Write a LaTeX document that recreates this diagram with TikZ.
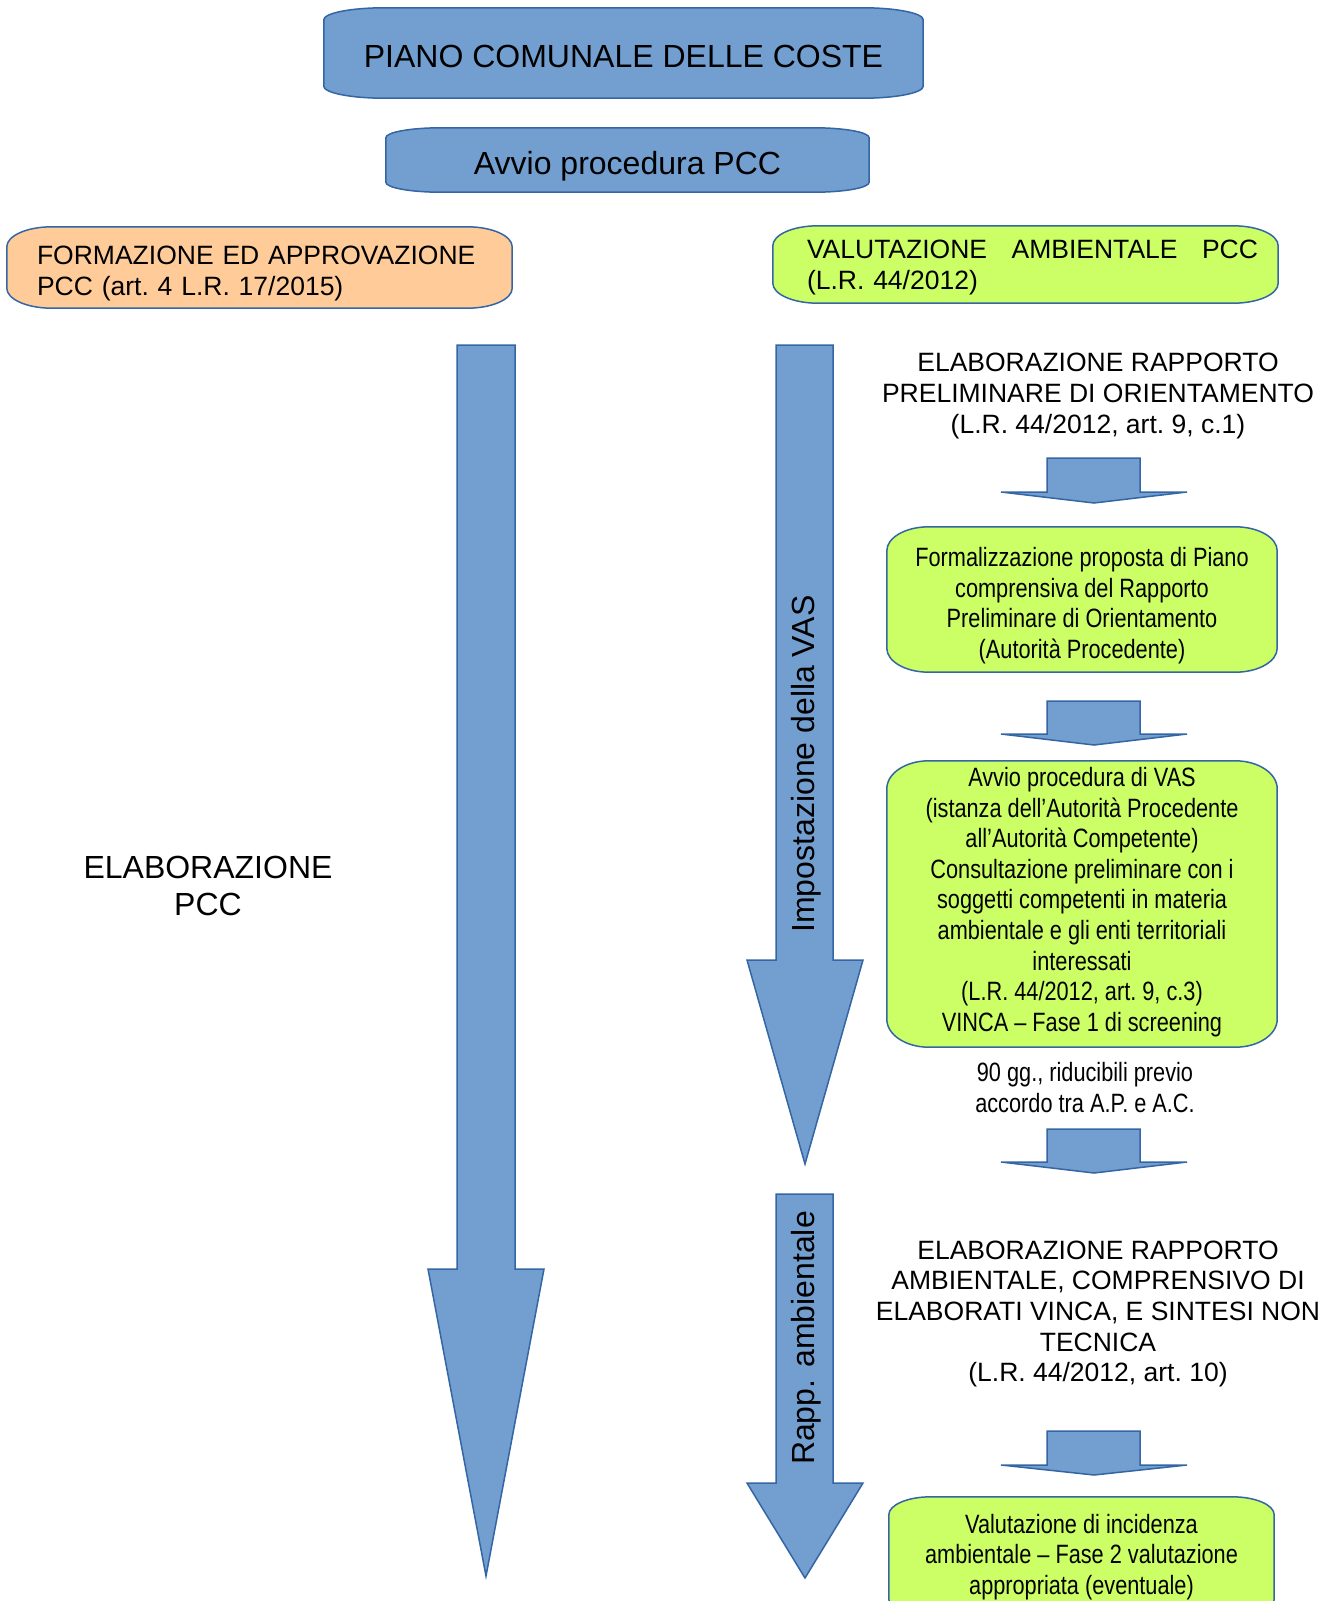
\documentclass[tikz,border=0pt]{standalone}
\usepackage{fontspec}
\setmainfont{Liberation Sans}
\newfontfamily\narrowfont[FakeStretch=0.82]{Liberation Sans}
\usetikzlibrary{backgrounds}
\definecolor{boxblue}{HTML}{729FCF}
\definecolor{lineblue}{HTML}{3465A4}
\definecolor{boxorange}{HTML}{FFCC99}
\definecolor{boxgreen}{HTML}{CCFF66}
\newcommand\ovalbox[5][]{%
\filldraw [shapeline, fill=#5] ([#1,xshift=#3]#2.north west) -- ([#1,xshift=-#3]#2.north east)
  arc [start angle=90, end angle=0, x radius=#3, y radius=#4] -- ([#1,yshift=#4]#2.south east)
  arc [start angle=0, end angle=-90, x radius=#3, y radius=#4] -- ([#1,xshift=#3]#2.south west)
  arc [start angle=-90, end angle=-180, x radius=#3, y radius=#4] -- ([#1,yshift=-#4]#2.north west)
  arc [start angle=180, end angle=90, x radius=#3, y radius=#4] -- cycle;}
\begin{document}
\begin{tikzpicture}[x=1pt,y=1pt]
\tikzstyle{every node}+=[inner sep=0pt]
\tikzstyle{bigtext}=[font=\fontsize{32}{36.5}\selectfont, align=center]
\tikzstyle{plaintext}=[font=\fontsize{26.5}{30.6}\selectfont, align=center]
\tikzstyle{narrowtext}=[font=\fontsize{26.5}{30.6}\narrowfont, align=center]
\tikzstyle{shapeline}=[draw=lineblue, line width=1.5pt]
\tikzstyle{blockarrow}=[shapeline, fill=boxblue]
\useasboundingbox (0,0) rectangle (1337,-1601);
\clip (0,0) rectangle (1337,-1601);
\node [bigtext, minimum width=599pt, minimum height=90pt] (piano) at (623.5,-56) {PIANO COMUNALE DELLE COSTE};
\node [bigtext, minimum width=483pt, minimum height=64pt] (avvio) at (627.5,-166) {Avvio procedura PCC};
\node [plaintext, align=left, text width=445pt, minimum width=505pt, minimum height=81pt] (formazione) at (259.5,-273.5) {FORMAZIONE ED APPROVAZIONE\\PCC (art.~4 L.R. 17/2015)};
\node [plaintext, align=left, text width=451pt, minimum width=505pt, minimum height=77pt] (valutazione) at (1032.5,-267.5) {VALUTAZIONE\hfill AMBIENTALE\hfill PCC\\(L.R. 44/2012)};
\node [bigtext] (elabpcc) at (208,-886) {ELABORAZIONE\\PCC};
\node [plaintext] (rappprel) at (1098,-396) {ELABORAZIONE RAPPORTO\\PRELIMINARE DI ORIENTAMENTO\\(L.R. 44/2012, art.~9, c.1)};
\node [narrowtext, minimum width=390pt, minimum height=145pt] (formalizz) at (1082,-605.5) {Formalizzazione proposta di Piano\\comprensiva del Rapporto\\Preliminare di Orientamento\\(Autorità Procedente)};
\node [narrowtext, minimum width=390pt, minimum height=286pt] (avviovas) at (1082,-902) {Avvio procedura di VAS\\(istanza dell’Autorità Procedente\\all’Autorità Competente)\\Consultazione preliminare con i\\soggetti competenti in materia\\ambientale e gli enti territoriali\\interessati\\(L.R. 44/2012, art.~9, c.3)\\VINCA – Fase 1 di screening};
\node [narrowtext] (termini) at (1085,-1087.5) {90 gg., riducibili previo\\accordo tra A.P. e A.C.};
\node [plaintext] (rappamb) at (1098,-1314) {ELABORAZIONE RAPPORTO\\AMBIENTALE, COMPRENSIVO DI\\ELABORATI VINCA, E SINTESI NON\\TECNICA\\(L.R. 44/2012, art.~10)};
\node [narrowtext, minimum width=385pt, minimum height=120pt] (incidenza) at (1081.5,-1557) {Valutazione di incidenza\\ambientale – Fase 2 valutazione\\appropriata (eventuale)};
\node [bigtext, rotate=90] (impostazione) at (806,-764) {Impostazione della VAS};
\node [bigtext, rotate=90] (rapp) at (806,-1338) {Rapp. ambientale};
\begin{scope}[on background layer]
\ovalbox[yshift=3pt]{piano}{60pt}{12pt}{boxblue}
\ovalbox[yshift=6pt]{avvio}{55pt}{10pt}{boxblue}
\ovalbox[yshift=6pt]{formazione}{45pt}{20pt}{boxorange}
\ovalbox[xshift=-7pt,yshift=3pt]{valutazione}{45pt}{20pt}{boxgreen}
\ovalbox[yshift=6pt]{formalizz}{42pt}{24pt}{boxgreen}
\ovalbox[yshift=-2pt]{avviovas}{42pt}{28pt}{boxgreen}
\ovalbox{incidenza}{42pt}{18pt}{boxgreen}
\filldraw [blockarrow] (457,-345) -- (515,-345) -- (515,-1269) -- (544,-1269) -- (486,-1576) -- (428,-1269) -- (457,-1269) -- cycle;
\filldraw [blockarrow] (776,-345) -- (833,-345) -- (833,-960) -- (863,-960) -- (805,-1164) -- (747,-960) -- (776,-960) -- cycle;
\filldraw [blockarrow] (776,-1194) -- (833,-1194) -- (833,-1483) -- (863,-1483) -- (805,-1578) -- (747,-1483) -- (776,-1483) -- cycle;
\foreach \ytop/\yhead/\ytip in {458/492/503, 701/734/745, 1129/1162/1173, 1431/1465/1475}
  \filldraw [blockarrow] (1047,-\ytop) -- (1140,-\ytop) -- (1140,-\yhead) -- (1187,-\yhead) -- (1094,-\ytip) -- (1001,-\yhead) -- (1047,-\yhead) -- cycle;
\end{scope}
\end{tikzpicture}
\end{document}
